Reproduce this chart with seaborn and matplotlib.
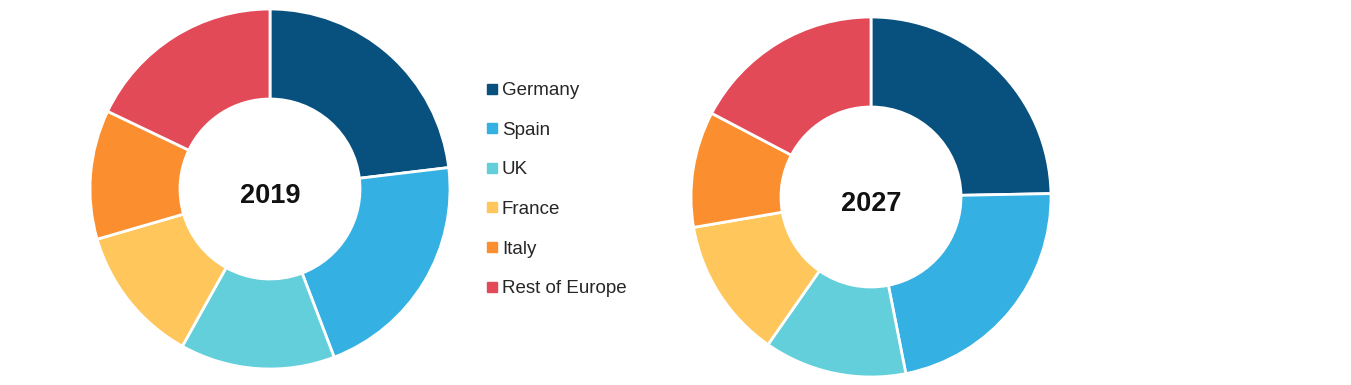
import matplotlib
matplotlib.use("Agg")
import matplotlib.pyplot as plt
import seaborn as sns
from matplotlib.lines import Line2D

sns.set_theme(style="white")
plt.rcParams['font.family'] = ['Liberation Sans', 'DejaVu Sans']

regions = ["Germany", "Spain", "UK", "France", "Italy", "Rest of Europe"]
share_2019 = [23.1, 21.1, 13.9, 12.4, 11.6, 17.9]
share_2027 = [24.7, 22.2, 12.8, 12.6, 10.4, 17.3]
years = ["2019", "2027"]
colors = ["#08517E", "#35B0E2", "#62CFDA", "#FEC65B", "#FB8F2F", "#E34A58"]
sns.set_palette(colors)

W, H = 1351, 385
fig = plt.figure(figsize=(W / 100, H / 100), dpi=100)
fig.patch.set_facecolor("white")

def add_ax(cx, cy, r):
    return fig.add_axes([(cx - r) / W, (H - cy - r) / H, 2 * r / W, 2 * r / H])

centers = [(270, 189, 180), (871, 197, 180)]
for (cx, cy, r), vals, yr in zip(centers, [share_2019, share_2027], years):
    ax = add_ax(cx, cy, r)
    ax.pie(vals, colors=sns.color_palette(), startangle=90, counterclock=False,
           radius=1.0, wedgeprops=dict(width=0.5, edgecolor="white", linewidth=2))
    ax.set_xlim(-1, 1)
    ax.set_ylim(-1, 1)
    ax.set_aspect("equal")
    ax.axis("off")
    ax.text(0, -0.04, yr, ha="center", va="center", fontsize=19.5,
            fontweight="bold", color="#111111")

handles = [Line2D([0], [0], marker="s", linestyle="none", markersize=6.5,
                  markerfacecolor=c, markeredgecolor=c) for c in colors]
fig.legend(handles, regions, loc="upper left", bbox_to_anchor=(486 / W, 1 - 82 / H),
           frameon=False, fontsize=13.5, labelspacing=1.2, handlelength=0.6,
           handletextpad=0.25, borderaxespad=0, borderpad=0)

fig.savefig("out.png", dpi=100, facecolor="white")
